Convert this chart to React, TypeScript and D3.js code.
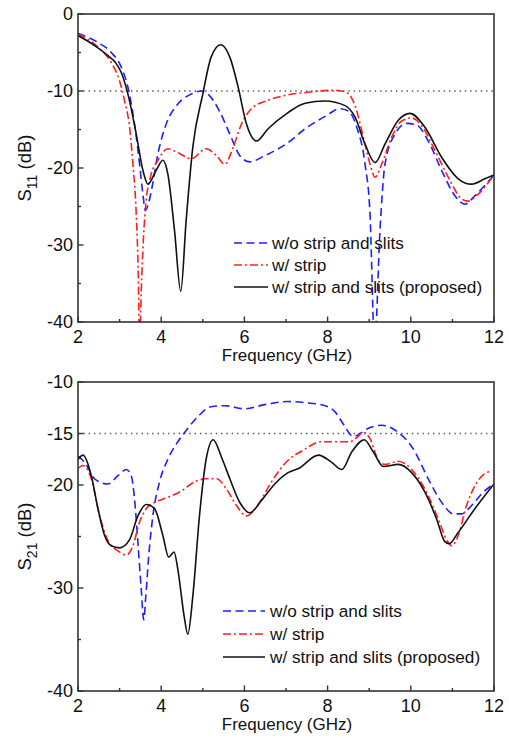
import React from 'react';
import * as d3 from 'd3';

type Pt = [number, number];

// Frequency axis ticks (GHz)
const freqMajor = [2, 4, 6, 8, 10, 12];
const freqMinor = [3, 5, 7, 9, 11];

// S11 panel ticks
const s11Major = [0, -10, -20, -30, -40];
const s11Minor = [-5, -15, -25, -35];
// S21 panel ticks
const s21Major = [-10, -15, -20, -30, -40];
const s21Minor = [-25, -35];

const legendLabels = ['w/o strip and slits', 'w/ strip', 'w/ strip and slits (proposed)'];

// S11 — w/o strip and slits
const s11NoStrip: Pt[] = [
  [2, -2.5], [2.48, -3.7], [2.8, -5.0], [3.04, -6.9], [3.2, -9.5], [3.36, -14.3], [3.48, -19.5],
  [3.56, -23.4], [3.62, -25.5], [3.7, -24.5], [3.78, -22.5], [3.92, -18.2], [4.12, -14.3], [4.4, -11.7],
  [4.72, -10.4], [4.96, -10.0], [5.16, -10.6], [5.4, -12.6], [5.65, -15.6], [5.89, -18.4], [6.13, -19.2],
  [6.49, -18.4], [7.05, -16.7], [7.46, -14.9], [7.94, -13.3], [8.3, -12.3], [8.5, -12.6], [8.7, -14.7],
  [8.9, -19.5], [9.02, -26], [9.13, -43], [9.26, -28], [9.38, -19.5], [9.62, -15.6], [9.9, -14.2],
  [10.14, -14.4], [10.42, -16.5], [10.74, -20.3], [11.06, -23.6], [11.3, -24.7], [11.54, -23.6], [12, -20.9],
];
// S11 — w/ strip
const s11Strip: Pt[] = [
  [2, -2.6], [2.48, -4.3], [2.8, -6.3], [3.0, -8.7], [3.12, -11.3], [3.24, -14.7], [3.32, -19.5],
  [3.4, -26], [3.45, -34], [3.48, -43], [3.52, -36], [3.57, -29.5], [3.64, -24.2], [3.76, -20.8],
  [3.92, -19.0], [4.16, -17.5], [4.4, -18.0], [4.72, -18.8], [5.08, -17.5], [5.33, -18.4], [5.53, -19.5],
  [5.73, -17.3], [5.93, -14.3], [6.17, -12.3], [6.57, -11.2], [7.05, -10.5], [7.46, -10.2], [8.18, -9.9],
  [8.46, -10.2], [8.66, -11.9], [8.86, -16.0], [9.02, -19.5], [9.14, -21.2], [9.3, -19.5], [9.54, -16.0],
  [9.78, -13.9], [10.02, -13.5], [10.26, -14.5], [10.58, -17.7], [10.9, -21.2], [11.22, -24.0],
  [11.38, -24.3], [11.62, -23.4], [12, -20.9],
];
// S11 — w/ strip and slits (proposed)
const s11Proposed: Pt[] = [
  [2, -2.8], [2.4, -4.1], [2.72, -5.4], [2.9, -6.3], [3.04, -7.6], [3.2, -10.4], [3.4, -15.6],
  [3.56, -20.3], [3.68, -22.1], [3.88, -20.3], [4.04, -19.0], [4.16, -20.8], [4.32, -28.1], [4.47, -36.0],
  [4.6, -26.8], [4.76, -17.3], [5.0, -10.4], [5.2, -5.6], [5.43, -4.0], [5.65, -5.6], [5.85, -9.5],
  [6.05, -14.3], [6.29, -16.5], [6.57, -14.9], [7.05, -12.8], [7.46, -11.6], [7.94, -11.3], [8.42, -11.9],
  [8.66, -13.4], [8.9, -16.9], [9.14, -19.3], [9.38, -16.9], [9.7, -13.8], [9.98, -12.9], [10.34, -14.7],
  [10.74, -18.6], [11.14, -21.4], [11.46, -22.1], [11.78, -21.4], [12, -20.9],
];

// S21 — w/o strip and slits
const s21NoStrip: Pt[] = [
  [2, -17.2], [2.16, -17.8], [2.4, -19.4], [2.72, -19.9], [2.96, -19.1], [3.16, -18.5], [3.28, -19.1],
  [3.36, -21.4], [3.44, -25.6], [3.52, -30.1], [3.58, -33.1], [3.63, -30.8], [3.7, -26.9], [3.8, -23.0],
  [3.96, -19.7], [4.16, -17.5], [4.4, -15.8], [4.64, -14.5], [4.92, -13.2], [5.2, -12.4], [5.53, -12.3],
  [6.0, -12.6], [6.49, -12.2], [7.05, -11.9], [7.46, -12.0], [7.94, -12.3], [8.18, -12.9], [8.38, -14.1],
  [8.62, -15.3], [8.78, -15.0], [8.98, -14.5], [9.3, -14.2], [9.7, -14.9], [10.06, -16.5], [10.42, -19.4],
  [10.78, -21.9], [11.02, -22.8], [11.22, -22.8], [11.46, -22.0], [11.74, -20.7], [12, -19.9],
];
// S21 — w/ strip
const s21Strip: Pt[] = [
  [2, -18.4], [2.12, -18.1], [2.32, -19.4], [2.52, -23.0], [2.72, -25.4], [2.96, -26.4], [3.16, -26.8],
  [3.32, -25.9], [3.48, -23.6], [3.64, -22.3], [3.84, -21.7], [4.16, -21.2], [4.48, -20.6], [4.8, -19.7],
  [5.08, -19.4], [5.33, -19.4], [5.57, -20.4], [5.81, -22.0], [6.05, -23.0], [6.33, -21.9], [6.65, -19.7],
  [7.05, -17.6], [7.38, -16.7], [7.86, -15.8], [8.26, -15.8], [8.54, -15.8], [8.7, -15.4], [8.86, -14.9],
  [9.02, -15.5], [9.22, -17.6], [9.38, -18.0], [9.7, -17.7], [10.02, -18.5], [10.34, -20.4], [10.66, -23.3],
  [10.86, -25.3], [10.98, -25.9], [11.14, -24.9], [11.34, -22.0], [11.54, -20.1], [11.78, -18.9], [11.9, -18.7],
];
// S21 — w/ strip and slits (proposed)
const s21Proposed: Pt[] = [
  [2, -17.5], [2.12, -17.1], [2.32, -19.1], [2.48, -22.3], [2.64, -24.9], [2.8, -25.9], [3.0, -26.1],
  [3.24, -25.3], [3.44, -23.0], [3.64, -21.9], [3.84, -22.3], [4.04, -24.9], [4.18, -27.0], [4.31, -26.5],
  [4.4, -28.2], [4.55, -32.7], [4.64, -34.5], [4.76, -30.8], [4.92, -23.0], [5.08, -17.5], [5.25, -15.6],
  [5.45, -17.3], [5.65, -19.4], [5.89, -21.7], [6.13, -22.7], [6.41, -21.5], [6.73, -19.9], [7.05, -18.8],
  [7.3, -18.4], [7.78, -17.1], [8.1, -17.8], [8.34, -18.5], [8.58, -16.8], [8.88, -15.6], [9.1, -16.8],
  [9.34, -18.2], [9.7, -18.0], [10.02, -18.8], [10.34, -20.7], [10.62, -23.3], [10.82, -25.5],
  [10.92, -25.7], [11.14, -24.6], [11.54, -22.3], [12, -19.9],
];

const BLUE = '#1f1fff';
const RED = '#ff1f1f';
const BLACK = '#111111';
const FONT = '"Liberation Sans", Arial, sans-serif';

const styles = [
  { color: BLUE, dash: '8,4.5' },
  { color: RED, dash: '8,3,2,3' },
  { color: BLACK, dash: 'none' },
];

interface PanelProps {
  id: string;
  top: number;
  bottom: number;
  domain: [number, number];
  major: number[];
  minor: number[];
  refLine: number;
  sub: string;
  series: Pt[][];
  legendX1: number;
  legendX2: number;
  legendTextX: number;
  legendY: number[];
}

const LEFT = 78;
const RIGHT = 494;

function Panel(p: PanelProps) {
  const x = d3.scaleLinear().domain([2, 12]).range([LEFT, RIGHT]);
  const y = d3.scaleLinear().domain(p.domain).range([p.bottom, p.top]);
  const line = d3
    .line<Pt>()
    .x((d) => x(d[0]))
    .y((d) => y(d[1]))
    .curve(d3.curveMonotoneX);
  const axisColor = '#333';
  const midY = (p.top + p.bottom) / 2;
  return (
    <g>
      <defs>
        <clipPath id={p.id}>
          <rect x={LEFT} y={p.top} width={RIGHT - LEFT} height={p.bottom - p.top} />
        </clipPath>
      </defs>
      <line x1={LEFT} x2={RIGHT} y1={y(p.refLine)} y2={y(p.refLine)} stroke="#555" strokeWidth={1.3} strokeDasharray="1.4,3.9" />
      <g clipPath={`url(#${p.id})`}>
        {p.series.map((s, i) => (
          <path key={i} d={line(s) || ''} fill="none" stroke={styles[i].color} strokeWidth={1.6}
            strokeDasharray={styles[i].dash} strokeLinejoin="round" />
        ))}
      </g>
      <rect x={LEFT} y={p.top} width={RIGHT - LEFT} height={p.bottom - p.top} fill="none" stroke={axisColor} strokeWidth={1.6} />
      {freqMajor.map((t) => (
        <g key={'xm' + t}>
          <line x1={x(t)} x2={x(t)} y1={p.bottom} y2={p.bottom - 5.5} stroke={axisColor} strokeWidth={1.4} />
          <text x={x(t)} y={p.bottom + 21} textAnchor="middle" fontSize={18} fontFamily={FONT} fill="#111">{t}</text>
        </g>
      ))}
      {freqMinor.map((t) => (
        <line key={'xn' + t} x1={x(t)} x2={x(t)} y1={p.bottom} y2={p.bottom - 3} stroke={axisColor} strokeWidth={1.4} />
      ))}
      {p.major.map((t) => (
        <g key={'ym' + t}>
          <line x1={LEFT} x2={LEFT + 5.5} y1={y(t)} y2={y(t)} stroke={axisColor} strokeWidth={1.4} />
          <text x={LEFT - 5} y={y(t) + 6.2} textAnchor="end" fontSize={18} fontFamily={FONT} fill="#111">{t}</text>
        </g>
      ))}
      {p.minor.map((t) => (
        <line key={'yn' + t} x1={LEFT} x2={LEFT + 3} y1={y(t)} y2={y(t)} stroke={axisColor} strokeWidth={1.4} />
      ))}
      <text x={(LEFT + RIGHT) / 2 + 1} y={p.bottom + 39} textAnchor="middle" fontSize={17} fontFamily={FONT} fill="#111">
        Frequency (GHz)
      </text>
      <text transform={`translate(31,${midY}) rotate(-90)`} textAnchor="middle" fontSize={18.5} fontFamily={FONT} fill="#111">
        S<tspan fontSize={14} dy={6}>{p.sub}</tspan><tspan dy={-6}> (dB)</tspan>
      </text>
      {legendLabels.map((lab, i) => (
        <g key={'lg' + i}>
          <line x1={p.legendX1} x2={p.legendX2} y1={p.legendY[i]} y2={p.legendY[i]} stroke={styles[i].color}
            strokeWidth={1.6} strokeDasharray={styles[i].dash} />
          <text x={p.legendTextX} y={p.legendY[i] + 6} fontSize={17.2} fontFamily={FONT} fill="#111">{lab}</text>
        </g>
      ))}
    </g>
  );
}

export default function App() {
  return (
    <svg width={509} height={738} style={{ position: 'absolute', left: 0, top: 0, background: '#fff' }}>
      <Panel id="c1" top={14} bottom={322} domain={[-40, 0]} major={s11Major} minor={s11Minor} refLine={-10}
        sub="11" series={[s11NoStrip, s11Strip, s11Proposed]}
        legendX1={234} legendX2={268} legendTextX={272} legendY={[243, 265, 287]} />
      <Panel id="c2" top={382} bottom={691} domain={[-40, -10]} major={s21Major} minor={s21Minor} refLine={-15}
        sub="21" series={[s21NoStrip, s21Strip, s21Proposed]}
        legendX1={223} legendX2={265} legendTextX={270} legendY={[611, 634, 657]} />
    </svg>
  );
}
